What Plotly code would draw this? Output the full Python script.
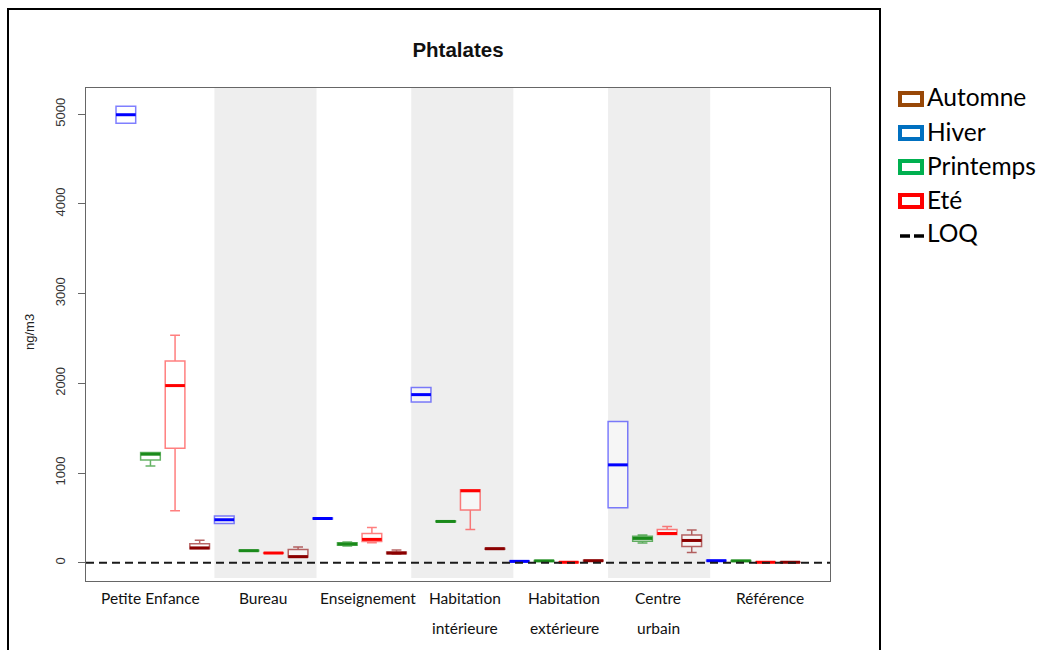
import plotly.graph_objects as go

# ---- data -------------------------------------------------------------
categories = ["Petite Enfance", "Bureau", "Enseignement", "Habitation\nintérieure",
              "Habitation\nextérieure", "Centre\nurbain", "Référence"]
seasons = ["Hiver", "Printemps", "Eté", "Automne"]

# box statistics per site (ng/m3): lower whisker, Q1, median, Q3, upper whisker
hiver_low = [4900, 438, 488, 1793, 12, 612, 18]
hiver_q1 = [4900, 438, 488, 1793, 12, 612, 18]
hiver_med = [4995, 479, 493, 1874, 15, 1091, 22]
hiver_q3 = [5089, 520, 498, 1953, 18, 1574, 26]
hiver_high = [5089, 520, 498, 1953, 18, 1574, 26]

printemps_low = [1077, 130, 185, 456, 16, 220, 16]
printemps_q1 = [1144, 130, 195, 456, 16, 240, 16]
printemps_med = [1210, 134, 208, 460, 20, 271, 20]
printemps_q3 = [1228, 138, 222, 464, 24, 295, 24]
printemps_high = [1228, 138, 232, 464, 24, 310, 24]

ete_low = [579, 105, 223, 371, 2, 315, 2]
ete_q1 = [1277, 105, 237, 587, 2, 315, 2]
ete_med = [1975, 108, 260, 802, 5, 326, 5]
ete_q3 = [2249, 112, 326, 813, 8, 371, 8]
ete_high = [2536, 112, 393, 813, 8, 404, 8]

automne_low = [156, 63, 95, 150, 18, 115, 2]
automne_q1 = [156, 63, 100, 150, 18, 182, 2]
automne_med = [165, 67, 108, 156, 22, 248, 5]
automne_q3 = [212, 148, 118, 162, 26, 308, 8]
automne_high = [250, 175, 141, 162, 26, 364, 8]

loq = 0

# ---- styling ----------------------------------------------------------
W, H = 1052, 650
L, R, T, B = 86, 830, 88, 581
Y_RANGE = [-204, 5293]
X_RANGE = [-0.62, 29.62]
BOX_W = 0.8

def px(x):
    return (x - L) / (R - L)

def py(y):
    return (B - y) / (B - T)

stats = {
    "Hiver": (hiver_low, hiver_q1, hiver_med, hiver_q3, hiver_high),
    "Printemps": (printemps_low, printemps_q1, printemps_med, printemps_q3, printemps_high),
    "Eté": (ete_low, ete_q1, ete_med, ete_q3, ete_high),
    "Automne": (automne_low, automne_q1, automne_med, automne_q3, automne_high),
}
box_line = {
    "Hiver": "rgba(0,0,255,0.5)",
    "Printemps": "rgba(0,128,0,0.6)",
    "Eté": "rgba(255,0,0,0.5)",
    "Automne": "rgba(139,0,0,0.6)",
}
median_col = {
    "Hiver": "#0000ff",
    "Printemps": "#1a8a1a",
    "Eté": "#ff0000",
    "Automne": "#8b0000",
}
legend_col = {
    "Automne": "#984807",
    "Hiver": "#0070c0",
    "Printemps": "#00b050",
    "Eté": "#ff0000",
}

fig = go.Figure()

n_s = len(seasons)
for si, s in enumerate(seasons):
    lo, q1, med, q3, hi = stats[s]
    xs = [gi * n_s + si + 1 for gi in range(len(categories))]
    fig.add_trace(go.Box(
        x=xs, lowerfence=lo, q1=q1, median=med, q3=q3, upperfence=hi,
        width=BOX_W, whiskerwidth=0.5, boxpoints=False,
        line=dict(color=box_line[s], width=1.5),
        fillcolor="rgba(255,255,255,0.45)",
        showlegend=False, hoverinfo="skip", name=s,
    ))
    # thick median bars
    mx, my = [], []
    for x, m in zip(xs, med):
        mx += [x - BOX_W / 2, x + BOX_W / 2, None]
        my += [m, m, None]
    fig.add_trace(go.Scatter(
        x=mx, y=my, mode="lines", line=dict(color=median_col[s], width=3),
        showlegend=False, hoverinfo="skip",
    ))

shapes = []
# shaded background bands for alternate sites
for gi in (1, 3, 5):
    start = gi * n_s + 1
    shapes.append(dict(type="rect", xref="x", yref="y",
                       x0=start - 0.4, x1=start + 3.75, y0=-170, y1=Y_RANGE[1],
                       fillcolor="#eeeeee", line=dict(width=0), layer="below"))
# LOQ line
shapes.append(dict(type="line", xref="paper", yref="y", x0=0, x1=1, y0=loq, y1=loq,
                   line=dict(color="#1a1a1a", width=2, dash="8px,5px")))
# outer frame
shapes.append(dict(type="rect", xref="paper", yref="paper",
                   x0=px(8), x1=px(880), y0=py(670), y1=py(9),
                   line=dict(color="black", width=2), fillcolor="rgba(0,0,0,0)"))

annotations = []
# category labels under the plot
label_x = [2.0, 6.59, 10.85, 14.79, 18.81, 22.63, 27.18]
for cx, lab in zip(label_x, categories):
    for li, line in enumerate(lab.split("\n")):
        annotations.append(dict(
            x=cx, y=py(598 + 30 * li), xref="x", yref="paper",
            text=line, showarrow=False, xanchor="center", yanchor="middle",
            font=dict(family="Lato", size=15.5, color="#111")))

# y-axis title
annotations.append(dict(x=px(29), y=py(332), xref="paper", yref="paper",
                        text="ng/m3", textangle=-90, showarrow=False,
                        xanchor="center", yanchor="middle",
                        font=dict(family="Liberation Sans", size=13, color="#222")))

# legend
leg_items = ["Automne", "Hiver", "Printemps", "Eté"]
for i, s in enumerate(leg_items):
    yc = 97 + 34 * i
    shapes.append(dict(type="rect", xref="paper", yref="paper",
                       x0=px(900), x1=px(922), y0=py(yc + 8), y1=py(yc - 4),
                       line=dict(color=legend_col[s], width=4), fillcolor="white"))
    annotations.append(dict(x=px(925), y=py(yc), xref="paper", yref="paper",
                            text=s, showarrow=False, xanchor="left", yanchor="middle",
                            font=dict(family="Lato", size=24.5, color="black")))
yc = 97 + 34 * 4
for x0, x1 in ((900, 910), (914, 924)):
    shapes.append(dict(type="line", xref="paper", yref="paper",
                       x0=px(x0), x1=px(x1), y0=py(yc + 3), y1=py(yc + 3),
                       line=dict(color="black", width=3.5)))
annotations.append(dict(x=px(925), y=py(yc), xref="paper", yref="paper",
                        text="LOQ", showarrow=False, xanchor="left", yanchor="middle",
                        font=dict(family="Lato", size=24.5, color="black")))

fig.update_layout(
    width=W, height=H,
    margin=dict(l=L, r=W - R, t=T, b=H - B, pad=0),
    paper_bgcolor="white", plot_bgcolor="white",
    title=dict(text="<b>Phtalates</b>", x=(L + R) / 2 / W, xanchor="center",
               y=1 - 50 / H, yanchor="middle",
               font=dict(family="Liberation Sans", size=20.5, color="#111")),
    shapes=shapes, annotations=annotations, showlegend=False,
    xaxis=dict(range=X_RANGE, showgrid=False, zeroline=False, showticklabels=False,
               ticks="", showline=True, mirror=True, linecolor="#666", linewidth=1),
    yaxis=dict(range=Y_RANGE, showgrid=False, zeroline=False,
               tickvals=[0, 1000, 2000, 3000, 4000, 5000], tickangle=-90,
               ticks="outside", ticklen=7, tickcolor="#666", tickwidth=1,
               showline=True, mirror=True, linecolor="#666", linewidth=1,
               tickfont=dict(family="Liberation Sans", size=13, color="#333"),
               ticklabelstandoff=8),
)

fig.write_html("out.html")
